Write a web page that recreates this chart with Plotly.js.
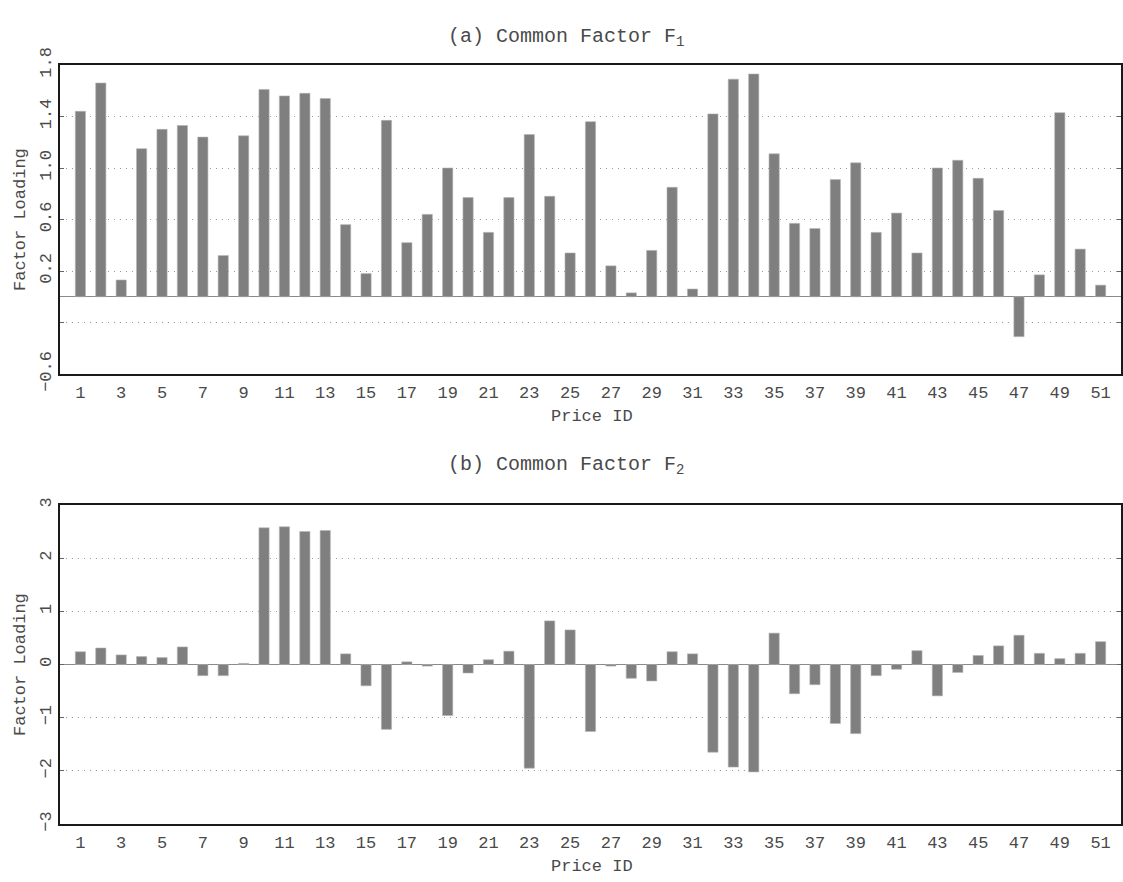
<!DOCTYPE html>
<html><head><meta charset="utf-8">
<script src="https://cdn.plot.ly/plotly-3.0.1.min.js"></script>
<style>html,body{margin:0;padding:0;background:#fff}</style>
</head><body><div id="chart" style="width:1123px;height:882px"></div>
<script>
const priceIds = [1,2,3,4,5,6,7,8,9,10,11,12,13,14,15,16,17,18,19,20,21,22,23,24,25,26,27,28,29,30,31,32,33,34,35,36,37,38,39,40,41,42,43,44,45,46,47,48,49,50,51];
const factor1 = [1.44,1.66,0.13,1.15,1.30,1.33,1.24,0.32,1.25,1.61,1.56,1.58,1.54,0.56,0.18,1.37,0.42,0.64,1.00,0.77,0.50,0.77,1.26,0.78,0.34,1.36,0.24,0.03,0.36,0.85,0.06,1.42,1.69,1.73,1.11,0.57,0.53,0.91,1.04,0.50,0.65,0.34,1.00,1.06,0.92,0.67,-0.31,0.17,1.43,0.37,0.09];
const factor2 = [0.24,0.31,0.18,0.15,0.13,0.33,-0.21,-0.21,0.02,2.57,2.59,2.50,2.52,0.20,-0.40,-1.22,0.05,-0.03,-0.96,-0.16,0.09,0.25,-1.95,0.82,0.65,-1.26,-0.03,-0.26,-0.31,0.24,0.20,-1.65,-1.93,-2.02,0.59,-0.55,-0.38,-1.11,-1.30,-0.21,-0.09,0.26,-0.59,-0.15,0.17,0.35,0.55,0.21,0.11,0.21,0.43];
const xTickVals = [1,3,5,7,9,11,13,15,17,19,21,23,25,27,29,31,33,35,37,39,41,43,45,47,49,51];
const f1TickVals = [-0.6,0.2,0.6,1.0,1.4,1.8];
const f1TickText = ['−0.6','0.2','0.6','1.0','1.4','1.8'];
const f1UnlabelledTicks = [-0.2];
const f2TickVals = [-3,-2,-1,0,1,2,3];
const f2TickText = ['−3','−2','−1','0','1','2','3'];
const panelTitles = ['(a) Common Factor F<sub>1</sub>','(b) Common Factor F<sub>2</sub>'];
const xTitle = 'Price ID';
const yTitle = 'Factor Loading';

const FONT = 'Liberation Mono, Courier New, monospace';
const TXT = '#4a4a4a';
const H = 882;
const py = p => 1 - p / H;
const GRID = {color:'#9c9c9c', dash:'1px,5px'};

const barStyle = {color:'#7f7f7f', line:{color:'#b4b4b4', width:0.6}};
const traces = [
  {type:'bar', x:priceIds, y:factor1, width:0.5, marker:barStyle, xaxis:'x', yaxis:'y', hoverinfo:'x+y'},
  {type:'bar', x:priceIds, y:factor2, width:0.5, marker:barStyle, xaxis:'x2', yaxis:'y2', hoverinfo:'x+y'}
];

const xBase = {
  range:[0,52], tickmode:'array', tickvals:xTickVals, ticks:'', showgrid:false,
  showline:true, linecolor:'#1a1a1a', linewidth:1.8, mirror:true, zeroline:false,
  tickfont:{family:FONT, size:17, color:TXT}, ticklabelstandoff:2
};
const yBase = {
  tickmode:'array', ticks:'inside', ticklen:4, tickcolor:'#666',
  showline:true, linecolor:'#1a1a1a', linewidth:1.8, mirror:'ticks',
  showgrid:true, gridcolor:GRID.color, griddash:GRID.dash, gridwidth:1,
  zeroline:true, zerolinecolor:'#8a8a8a', zerolinewidth:1.4,
  tickangle:-90, tickfont:{family:FONT, size:17, color:TXT}
};

const layout = {
  width:1123, height:882,
  margin:{l:60, r:2, t:0, b:0},
  paper_bgcolor:'#fff', plot_bgcolor:'#fff',
  showlegend:false, bargap:0,
  xaxis: Object.assign({}, xBase, {domain:[0,1], anchor:'y'}),
  yaxis: Object.assign({}, yBase, {domain:[py(374), py(65)], range:[-0.6,1.8], tickvals:f1TickVals, ticktext:f1TickText, anchor:'x',
    minor:{tickmode:'array', tickvals:f1UnlabelledTicks, ticks:'inside', ticklen:4, tickcolor:'#666', showgrid:true, gridcolor:GRID.color, griddash:GRID.dash, gridwidth:1}}),
  xaxis2: Object.assign({}, xBase, {domain:[0,1], anchor:'y2'}),
  yaxis2: Object.assign({}, yBase, {domain:[py(824), py(505)], range:[-3,3], tickvals:f2TickVals, ticktext:f2TickText, anchor:'x2'}),
  annotations:[
    {text:panelTitles[0], xref:'paper', yref:'paper', x:(566-60)/1061, y:py(38), xanchor:'center', yanchor:'middle', showarrow:false, font:{family:FONT, size:20, color:TXT}},
    {text:panelTitles[1], xref:'paper', yref:'paper', x:(566-60)/1061, y:py(465), xanchor:'center', yanchor:'middle', showarrow:false, font:{family:FONT, size:20, color:TXT}},
    {text:xTitle, xref:'paper', yref:'paper', x:(592-60)/1061, y:py(416), xanchor:'center', yanchor:'middle', showarrow:false, font:{family:FONT, size:17, color:TXT}},
    {text:xTitle, xref:'paper', yref:'paper', x:(592-60)/1061, y:py(866), xanchor:'center', yanchor:'middle', showarrow:false, font:{family:FONT, size:17, color:TXT}},
    {text:yTitle, xref:'paper', yref:'paper', x:0, xshift:-40, y:py(220), xanchor:'center', yanchor:'middle', textangle:-90, showarrow:false, font:{family:FONT, size:17, color:TXT}},
    {text:yTitle, xref:'paper', yref:'paper', x:0, xshift:-40, y:py(665), xanchor:'center', yanchor:'middle', textangle:-90, showarrow:false, font:{family:FONT, size:17, color:TXT}}
  ]
};

Plotly.newPlot('chart', traces, layout, {staticPlot:true, displayModeBar:false});
</script></body></html>
